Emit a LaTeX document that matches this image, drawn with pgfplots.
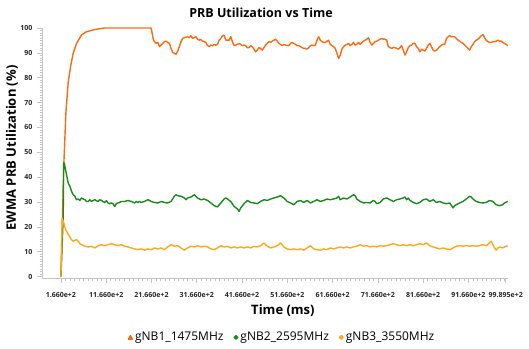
\documentclass[border=0pt]{standalone}
\usepackage{pgfplots}
\pgfplotsset{compat=1.18}
\usepackage{fontspec}
\setmainfont{Open Sans}
\definecolor{cO}{HTML}{FF6A13}
\definecolor{cG}{HTML}{1A8A1A}
\definecolor{cY}{HTML}{FFA81A}
\definecolor{axgray}{HTML}{C4C4C4}
\begin{document}
\begin{tikzpicture}
\path[use as bounding box] (0,0) rectangle (529pt,348pt);
\begin{axis}[
  at={(42pt,70pt)}, anchor=south west,
  scale only axis, width=466pt, height=250pt,
  xmin=-252, xmax=10040, ymin=-0.6, ymax=100,
  axis x line*=bottom, axis y line*=left,
  axis line style={axgray, line width=0.8pt},
  every tick/.style={axgray, line width=0.6pt},
  tick align=outside,
  major tick length=5pt, minor tick length=2.5pt,
  scaled x ticks=false,
  xtick={166,1166,2166,3166,4166,5166,6166,7166,8166,9166,9989.5},
  xticklabels={1.660e+2,11.660e+2,21.660e+2,31.660e+2,41.660e+2,51.660e+2,61.660e+2,71.660e+2,81.660e+2,91.660e+2,99.895e+2},
  minor xtick={266,366,...,9966},
  ytick={0,10,...,100},
  minor y tick num=9,
  /pgf/number format/assume math mode=true,
  tick label style={font=\fontsize{7}{8}\selectfont\bfseries, text=black!85},
  xticklabel shift=6pt,
  yticklabel shift=1pt,
  title={PRB Utilization vs Time},
  every axis title/.style={at={(axis description cs:0.47,1.06)}, anchor=center, font=\fontsize{12.5}{15}\selectfont\bfseries},
  xlabel={Time (ms)},
  xlabel style={at={(axis description cs:0.517,-0.132)}, anchor=center, font=\fontsize{13}{15}\selectfont\bfseries},
  ylabel={EWMA PRB Utilization (\%)},
  ylabel style={at={(axis description cs:-0.0644,0.52)}, anchor=center, font=\fontsize{13}{15}\selectfont\bfseries},
  legend style={at={(axis description cs:0.515,-0.236)}, anchor=center, draw=none, fill=none,
    font=\fontsize{12}{14}\selectfont, legend columns=3,
    /tikz/every odd column/.append style={column sep=0pt},
    /tikz/every even column/.append style={column sep=8pt}},
  line join=round,
]
\addplot[cO, line width=1.4pt, legend image code/.code={\fill[cO] (0pt,-2.2pt)--(4pt,-2.2pt)--(2pt,1.3pt)--cycle;}] coordinates {
(166,0)(232,46)(276,66)(326,78)(379,84.5)(436,89.8)(511,93.8)(621,97.2)(731,98.5)(876,99.2)(986,99.6)(1130,100)(2158,100)
(2210,95.1)(2268,93.8)(2305,94.2)(2342,92.5)(2378,93.1)(2415,93.8)(2452,94.5)(2488,94.7)(2525,94.2)(2561,93.8)
(2598,91.8)(2635,90.2)(2671,89.8)(2708,89.4)(2745,90.7)(2781,92.5)(2818,94.5)(2855,95.8)(2906,96.2)(2964,96.5)
(3001,96.1)(3038,96.9)(3074,95.8)(3111,96.1)(3148,96.5)(3184,95.5)(3221,95.1)(3257,95.4)(3294,94.7)(3331,94.5)
(3367,94.2)(3404,92.9)(3441,92.5)(3477,93.1)(3514,92.9)(3551,93.4)(3587,93.1)(3624,93.4)(3660,95.1)(3697,95.8)
(3734,96.9)(3770,97.1)(3807,95.1)(3844,95.1)(3880,95.1)(3917,96.5)(3954,94.5)(3990,92.9)(4027,93.1)(4063,93.4)
(4100,93.8)(4137,93.4)(4173,92.9)(4210,93.1)(4247,92.9)(4283,92.1)(4320,92.1)(4357,92.9)(4393,92.5)(4430,91.5)
(4466,90.4)(4503,91.1)(4540,92.1)(4576,91.8)(4613,91.1)(4650,92.1)(4686,93.1)(4723,93.8)(4760,94.5)(4796,94.2)
(4833,94.7)(4870,95.1)(4906,95.5)(4943,94.7)(4979,93.8)(5016,93.4)(5053,92.9)(5089,93.4)(5126,93.1)(5163,92.9)
(5199,92.9)(5236,93.8)(5273,94.2)(5309,93.8)(5346,93.4)(5382,92.9)(5419,92.9)(5456,92.5)(5492,92.1)(5529,91.8)
(5566,91.8)(5602,91.5)(5639,92.1)(5676,92.9)(5712,93.1)(5749,92.9)(5785,93.1)(5822,95.1)(5859,96.5)(5895,95.1)
(5932,94.5)(5969,94.2)(6005,94.2)(6042,94.7)(6079,95.1)
(6115,93.4)(6152,92.9)(6189,92.5)(6225,91.8)(6262,89.8)(6299,87.8)(6335,89.1)(6372,91.5)(6409,92.5)(6445,93.1)
(6482,93.4)(6518,93.8)(6555,92.9)(6592,93.4)(6628,94.2)(6665,93.1)(6702,93.4)(6738,94.2)(6775,93.4)(6812,94.2)
(6848,94.7)(6885,95.1)(6921,95.5)(6958,96.1)(6995,94.2)(7031,93.1)(7068,93.8)(7105,94.5)(7141,94.7)(7178,95.1)
(7214,95.5)(7251,95.8)(7288,95.5)(7324,95.5)(7361,95.1)(7398,92.5)(7434,92.1)(7471,91.8)(7508,92.1)(7544,92.1)
(7581,91.8)(7617,91.5)(7654,92.1)(7691,92.9)(7727,91.1)(7764,89.1)(7801,90.4)(7837,92.1)(7874,92.9)(7911,93.1)
(7947,93.8)(7984,93.8)(8021,92.5)(8057,91.8)(8094,90.4)(8131,91.5)(8167,91.1)(8204,90.7)(8240,91.8)(8277,93.1)
(8314,93.8)(8350,92.5)(8387,91.1)(8424,90.7)(8460,91.1)(8497,91.8)(8534,92.5)(8570,93.1)(8607,93.4)(8643,93.4)
(8680,95.8)(8717,96.5)(8753,96.9)(8790,96.5)(8827,96.5)(8863,96.5)(8900,95.8)(8937,95.1)(8973,94.7)(9010,94.2)
(9046,93.8)(9083,93.1)(9120,92.5)(9156,91.8)(9193,91.1)(9230,92.5)(9266,93.4)(9303,94.5)(9340,95.1)(9376,95.5)
(9413,96.1)(9449,96.9)(9486,97.4)(9523,96.1)(9559,95.1)(9596,94.5)(9633,94.2)(9669,94.2)(9706,94.5)(9742,94.5)
(9779,94.7)(9816,95.1)(9852,94.7)(9889,94.7)(9926,94.2)(9962,93.8)(9999,93.4)(10035,92.9)
};
\addlegendentry{gNB1\_1475MHz}
\addplot[cG, line width=1.4pt, legend image code/.code={\fill[cG] (0pt,-2.2pt)--(1.8pt,-0.4pt)--(0pt,1.4pt)--(-1.8pt,-0.4pt)--cycle;}] coordinates {
(166,0)(217,24.2)(225,45.7)(239,45.7)(268,43.0)(298,40.3)(327,37.6)(364,36.3)(400,34.3)(437,32.9)(474,32.3)(510,30.9)
(547,31.2)(584,30.6)(620,31.6)(657,31.2)(693,30.9)(730,30.2)(767,30.2)(803,30.9)(840,30.2)(877,30.6)(913,30.9)
(950,30.5)(987,30.2)(1023,30.9)(1060,30.6)(1096,30.2)(1133,29.8)(1170,30.5)(1206,29.6)(1243,29.3)(1280,29.6)
(1316,29.3)(1353,28.2)(1390,29.3)(1426,29.6)(1463,29.8)(1499,30.2)(1573,30.2)(1646,30.6)(1719,30.2)(1792,29.6)
(1829,30.2)(1866,29.8)(1902,30.2)(1939,29.8)(2012,30.2)(2086,30.9)(2122,30.6)(2159,30.2)(2232,29.8)(2305,29.6)
(2379,30.2)(2452,29.8)(2525,29.6)(2598,30.2)(2672,32.3)(2708,32.9)(2745,32.5)(2818,32.3)(2892,31.6)(2928,30.9)
(2965,31.6)(3038,32.0)(3111,32.9)(3185,31.6)(3258,30.9)(3331,31.2)(3404,30.6)(3478,29.6)(3551,28.5)(3624,28.0)
(3697,29.6)(3771,31.2)(3807,31.6)(3844,31.2)(3917,30.2)(3990,28.2)(4064,27.2)(4100,26.2)(4137,27.6)(4210,29.3)
(4283,30.6)(4357,29.8)(4430,29.6)(4503,29.3)(4577,30.2)(4650,30.9)(4723,30.6)(4796,31.2)(4870,31.6)(4943,32.0)
(5016,32.5)(5089,31.6)(5163,30.2)(5236,29.6)(5309,28.9)(5383,30.2)(5456,30.6)(5529,29.8)(5602,30.6)(5676,29.6)
(5749,30.2)(5822,30.9)(5895,30.2)(5969,30.6)(6042,31.2)(6115,30.9)(6189,31.2)(6262,31.6)(6298,32.3)(6335,30.9)
(6408,31.6)(6482,31.2)(6555,32.0)(6628,32.9)(6665,32.5)(6701,31.2)(6775,30.2)(6848,29.6)(6921,29.8)(6994,29.6)
(7068,30.6)(7104,30.2)(7141,29.3)(7214,29.8)(7287,31.2)(7361,31.6)(7434,30.9)(7507,30.2)(7580,30.9)(7654,31.2)
(7727,31.6)(7764,32.0)(7800,30.9)(7837,31.6)(7874,30.6)(7947,29.8)(8020,29.3)(8093,29.8)(8167,30.9)(8240,31.2)
(8313,30.2)(8386,30.9)(8460,29.8)(8533,30.2)(8606,29.6)(8680,29.3)(8753,29.6)(8826,27.6)(8863,28.5)(8899,28.9)
(8973,29.6)(9046,30.2)(9119,31.2)(9193,32.3)(9229,32.0)(9266,31.2)(9339,30.2)(9412,29.8)(9486,29.6)(9559,29.8)
(9632,30.6)(9705,30.2)(9779,28.9)(9852,28.5)(9925,28.9)(9962,29.6)(10035,30.2)
};
\addlegendentry{gNB2\_2595MHz}
\addplot[cY, line width=1.4pt, legend image code/.code={\fill[cY] (0pt,-0.4pt) circle (1.8pt);}] coordinates {
(166,0)(195,23.5)(239,20.9)(268,18.9)(312,17.5)(364,15.9)(400,14.8)(437,14.2)(474,14.6)(510,14.8)(547,14.2)
(584,13.2)(620,12.8)(693,12.2)(767,11.9)(840,12.2)(913,11.5)(987,12.4)(1060,12.8)(1133,12.4)(1206,12.8)
(1280,13.2)(1353,12.8)(1426,12.4)(1499,12.8)(1573,12.2)(1646,11.9)(1719,11.5)(1792,11.1)(1866,10.8)(1939,11.1)
(2012,10.6)(2086,11.1)(2159,10.8)(2232,11.5)(2305,11.1)(2379,11.5)(2452,10.8)(2525,11.9)(2598,12.8)(2672,12.2)
(2745,12.4)(2818,11.5)(2892,10.6)(2965,11.5)(3038,12.2)(3111,11.9)(3185,12.4)(3258,11.9)(3331,12.2)(3404,11.9)
(3478,11.1)(3551,10.8)(3624,11.5)(3697,12.4)(3771,11.9)(3844,12.2)(3917,11.5)(3990,11.9)(4064,11.5)(4137,11.9)
(4210,11.5)(4283,11.9)(4357,11.5)(4430,12.2)(4503,11.9)(4577,12.4)(4650,13.5)(4687,12.8)(4723,12.2)(4796,11.5)
(4870,11.9)(4943,12.4)(5016,13.5)(5052,12.8)(5089,11.9)(5163,11.1)(5236,10.8)(5309,11.1)(5383,10.8)(5456,11.1)
(5529,10.6)(5602,11.5)(5676,12.4)(5749,11.1)(5822,10.8)(5895,10.6)(5969,11.1)(6042,10.8)(6115,11.5)(6189,11.1)
(6262,11.5)(6335,11.9)(6408,11.5)(6482,11.9)(6555,11.5)(6628,11.9)(6701,12.2)(6775,12.8)(6848,12.2)(6921,12.4)
(6994,11.9)(7068,12.2)(7141,11.9)(7214,12.4)(7287,12.2)(7361,12.4)(7434,12.8)(7507,13.2)(7580,12.8)(7654,12.4)
(7727,12.8)(7800,12.4)(7874,12.8)(7947,12.4)(8020,12.8)(8093,13.2)(8167,12.8)(8240,13.5)(8313,12.4)(8386,11.9)
(8460,11.5)(8533,11.1)(8606,11.5)(8680,11.1)(8753,10.8)(8826,11.5)(8899,12.2)(8973,12.4)(9046,12.2)(9119,12.4)
(9193,12.2)(9266,12.4)(9339,12.2)(9412,12.4)(9486,12.8)(9559,12.4)(9632,13.5)(9669,14.2)(9705,12.8)(9742,11.5)
(9779,10.6)(9815,11.5)(9852,11.9)(9925,11.5)(9998,12.2)(10035,12.4)
};
\addlegendentry{gNB3\_3550MHz}
\end{axis}
\end{tikzpicture}
\end{document}
